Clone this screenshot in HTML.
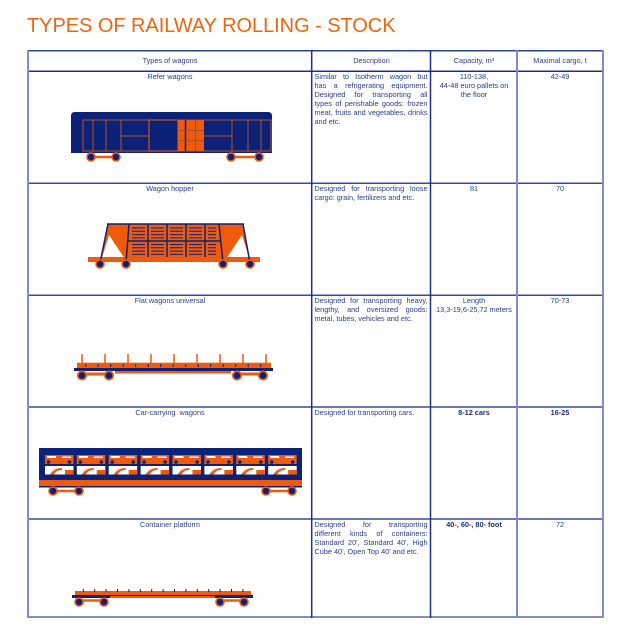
<!DOCTYPE html>
<html>
<head>
<meta charset="utf-8">
<style>
  html,body{margin:0;padding:0;background:#fff;}
  body{width:636px;height:637px;position:relative;overflow:hidden;font-family:"Liberation Sans",sans-serif;}
  svg{position:absolute;left:0;top:0;}
  .t{position:absolute;font-size:7.3px;line-height:8.9px;color:#2c3b8e;}
  .c{text-align:center;}
  .d{position:absolute;left:314.5px;width:113px;font-size:7.3px;line-height:8.9px;color:#2c3b8e;}
  .j{text-align:justify;text-align-last:justify;}
  .b{font-weight:bold;color:#1e2c7a;}
  .title{position:absolute;left:27px;top:13px;font-size:20px;line-height:26px;color:#f0640f;white-space:nowrap;letter-spacing:-0.05px;}
</style>
</head>
<body>
<svg width="636" height="637" viewBox="0 0 636 637" xmlns="http://www.w3.org/2000/svg">
  <defs>
    <g id="win">
      <rect x="0" y="455" width="28.5" height="9" fill="#f05a0c"/>
      <rect x="2" y="456" width="9" height="2" fill="#fff"/>
      <rect x="17" y="456.5" width="9" height="1.5" fill="#fff"/>
      <circle cx="3.5" cy="462" r="1.8" fill="#0b2278"/>
      <circle cx="24.5" cy="462" r="1.8" fill="#0b2278"/>
      <rect x="0" y="466" width="28.5" height="8.5" fill="#fff"/>
      <path d="M5,474.5 Q9,468 17,468 L17,470 Q11,470 9,474.5 Z" fill="#f05a0c"/>
      <rect x="20" y="470" width="8.5" height="4.5" fill="#f05a0c"/>
    </g>
  </defs>

  <!-- table lines -->
  <g fill="none">
    <line x1="27" y1="50.7" x2="604" y2="50.7" stroke="#2a3f95" stroke-width="1.5"/>
    <line x1="27" y1="71.3" x2="604" y2="71.3" stroke="#1f2f86" stroke-width="1.5"/>
    <line x1="27" y1="183.3" x2="604" y2="183.3" stroke="#3a4b9c" stroke-width="1.5"/>
    <line x1="27" y1="295.3" x2="604" y2="295.3" stroke="#3a4b9c" stroke-width="1.5"/>
    <line x1="27" y1="407" x2="604" y2="407" stroke="#3a4b9c" stroke-width="1.5"/>
    <line x1="27" y1="519" x2="604" y2="519" stroke="#3a4b9c" stroke-width="1.5"/>
    <line x1="27" y1="617" x2="604" y2="617" stroke="#7f8fc6" stroke-width="2"/>
    <line x1="28" y1="50" x2="28" y2="618" stroke="#7f8fc6" stroke-width="2"/>
    <line x1="311.7" y1="50" x2="311.7" y2="618" stroke="#1f2f86" stroke-width="1.5"/>
    <line x1="430.5" y1="50" x2="430.5" y2="618" stroke="#1f2f86" stroke-width="1.5"/>
    <line x1="517" y1="50" x2="517" y2="618" stroke="#7f8fc6" stroke-width="2"/>
    <line x1="603" y1="50" x2="603" y2="618" stroke="#7f8fc6" stroke-width="2"/>
  </g>

  <!-- Refer wagon -->
  <g>
    <path d="M71,153 V116 Q71,112 75,112 H268 Q272,112 272,116 V153 Z" fill="#0b2278"/>
    <g stroke="#b4532a" stroke-width="1" fill="none">
      <rect x="83" y="120" width="188" height="31"/>
      <path d="M93,120V151M106,120V151M121,120V151M232,120V151M248,120V151M261,120V151M121,136H149M204,136H232"/>
    </g>
    <rect x="149" y="120" width="29" height="31" fill="none" stroke="#f05a0c" stroke-width="1"/>
    <rect x="178" y="120" width="26" height="31" fill="#f05a0c"/>
    <path d="M185.5,120V151" stroke="#0b2278" stroke-width="1.5"/>
    <path d="M195.5,120V151M178,130.5H204M178,140.8H204" stroke="#a0502a" stroke-width="1"/>
    <path d="M91,157H116M231,157H259" stroke="#f05a0c" stroke-width="2.5"/>
    <g fill="#0b2278" stroke="#f05a0c" stroke-width="1.6">
      <circle cx="91" cy="157" r="4"/><circle cx="116" cy="157" r="4"/>
      <circle cx="231" cy="157" r="4"/><circle cx="259" cy="157" r="4"/>
    </g>
  </g>

  <!-- Hopper -->
  <g>
    <polygon points="108,224 243,224 249,257 101,257" fill="#f05a0c"/>
    <polygon points="102,257.5 109,235 124,257.5" fill="#fff"/>
    <polygon points="249,257.5 242,235 227,257.5" fill="#fff"/>
    <rect x="88" y="257" width="172" height="5" fill="#f05a0c"/>
    <g stroke="#0b2278" stroke-width="1.5" fill="none">
      <path d="M107,224H244"/>
      <path d="M108,224L100,263M129,224L126,263M219,224L223,263M243,224L250,263"/>
      <path d="M148,224V257M167,224V257M186,224V257M205,224V257M128,241H220"/>
    </g>
    <g stroke="#0b2278" stroke-width="1" fill="none">
      <path d="M132,228H145M151,228H164M170,228H183M189,228H202M208,228H216
               M132,231.3H145M151,231.3H164M170,231.3H183M189,231.3H202M208,231.3H216
               M132,234.6H145M151,234.6H164M170,234.6H183M189,234.6H202M208,234.6H216
               M132,237.9H145M151,237.9H164M170,237.9H183M189,237.9H202M208,237.9H216
               M132,244.5H145M151,244.5H164M170,244.5H183M189,244.5H202M208,244.5H216
               M132,247.8H145M151,247.8H164M170,247.8H183M189,247.8H202M208,247.8H216
               M132,251.1H145M151,251.1H164M170,251.1H183M189,251.1H202M208,251.1H216
               M132,254.4H145M151,254.4H164M170,254.4H183M189,254.4H202M208,254.4H216"/>
    </g>
    <g fill="#0b2278" stroke="#f05a0c" stroke-width="1.6">
      <circle cx="100" cy="264" r="4"/><circle cx="126" cy="264" r="4"/>
      <circle cx="223" cy="264" r="4"/><circle cx="250" cy="264" r="4"/>
    </g>
  </g>

  <!-- Flat wagon -->
  <g>
    <path d="M82,354V363M105,354V363M128,354V363M151,354V363M174,354V363M197,354V363M220,354V363M243,354V363M266,354V363" stroke="#f05a0c" stroke-width="1.5"/>
    <rect x="77" y="362.7" width="194" height="5.5" fill="#f05a0c"/>
    <path d="M85.7,364V367M98.2,364V367M110.7,364V367M123.2,364V367M135.7,364V367M148.2,364V367M160.7,364V367M173.2,364V367M185.7,364V367M198.2,364V367M210.7,364V367M223.2,364V367M235.7,364V367M248.2,364V367M260.7,364V367" stroke="#0b2278" stroke-width="1"/>
    <rect x="74" y="368" width="199" height="3" fill="#0b2278"/>
    <rect x="115" y="371" width="116" height="2.5" fill="#f05a0c"/>
    <path d="M82,374H109M237,374H263" stroke="#f05a0c" stroke-width="3"/>
    <g fill="#0b2278" stroke="#f05a0c" stroke-width="1.7">
      <circle cx="82" cy="375.5" r="4.2"/><circle cx="109" cy="375.5" r="4.2"/>
      <circle cx="237" cy="375.5" r="4.2"/><circle cx="263" cy="375.5" r="4.2"/>
    </g>
  </g>

  <!-- Car carrier -->
  <g>
    <rect x="39" y="448" width="263" height="32" fill="#0b2278"/>
    <use href="#win" x="45"/>
    <use href="#win" x="76.8"/>
    <use href="#win" x="108.7"/>
    <use href="#win" x="140.6"/>
    <use href="#win" x="172.5"/>
    <use href="#win" x="204.4"/>
    <use href="#win" x="236.3"/>
    <use href="#win" x="268.2"/>
    <rect x="39" y="480" width="263" height="6" fill="#f05a0c"/>
    <rect x="39" y="486" width="263" height="1.5" fill="#0b2278"/>
    <path d="M53,491H79M266,491H292" stroke="#f05a0c" stroke-width="2.5"/>
    <g fill="#0b2278" stroke="#f05a0c" stroke-width="1.6">
      <circle cx="53" cy="491" r="4"/><circle cx="79" cy="491" r="4"/>
      <circle cx="266" cy="491" r="4"/><circle cx="292" cy="491" r="4"/>
    </g>
  </g>

  <!-- Container platform -->
  <g>
    <rect x="75" y="591" width="176" height="4.5" fill="#f05a0c"/>
    <path d="M83.3,589V592M94.7,589V592M106.1,589V592M117.5,589V592M128.9,589V592M140.3,589V592M151.7,589V592M163.1,589V592M174.5,589V592M185.9,589V592M197.3,589V592M208.7,589V592M220.1,589V592M231.5,589V592M242.9,589V592" stroke="#0b2278" stroke-width="1"/>
    <rect x="72" y="595" width="38" height="3" fill="#0b2278"/>
    <rect x="215" y="595" width="38" height="3" fill="#0b2278"/>
    <rect x="110" y="595" width="105" height="1" fill="#0b2278"/>
    <rect x="110" y="596" width="105" height="2" fill="#f05a0c"/>
    <path d="M79,600.5H104M220,600.5H244" stroke="#f05a0c" stroke-width="2.5"/>
    <g fill="#0b2278" stroke="#f05a0c" stroke-width="1.6">
      <circle cx="79" cy="602" r="4"/><circle cx="104" cy="602" r="4"/>
      <circle cx="220" cy="602" r="4"/><circle cx="244" cy="602" r="4"/>
    </g>
  </g>
</svg>

<div class="title">TYPES OF RAILWAY ROLLING - STOCK</div>

<!-- header -->
<div class="t c" style="left:28px;width:284px;top:56.6px;">Types of wagons</div>
<div class="t c" style="left:312px;width:119px;top:56.6px;">Description</div>
<div class="t c" style="left:431px;width:86px;top:56.6px;">Capacity, m³</div>
<div class="t c" style="left:517px;width:86px;top:56.6px;">Maximal cargo, t</div>

<!-- row 1 -->
<div class="t c" style="left:28px;width:284px;top:73px;">Refer wagons</div>
<div class="d" style="top:73px;">
  <div class="j">Similar to Isotherm wagon but</div>
  <div class="j">has a refrigerating equipment.</div>
  <div class="j">Designed for transporting all</div>
  <div class="j">types of perishable goods: frozen</div>
  <div class="j">meat, fruits and vegetables, drinks</div>
  <div>and etc.</div>
</div>
<div class="t c" style="left:431px;width:86px;top:73px;">110-138,<br>44-48 euro pallets on<br>the floor</div>
<div class="t c" style="left:517px;width:86px;top:73px;">42-49</div>

<!-- row 2 -->
<div class="t c" style="left:28px;width:284px;top:185px;">Wagon hopper</div>
<div class="d" style="top:185px;">
  <div class="j">Designed for transporting loose</div>
  <div>cargo: grain, fertilizers and etc.</div>
</div>
<div class="t c" style="left:431px;width:86px;top:185px;">81</div>
<div class="t c" style="left:517px;width:86px;top:185px;">70</div>

<!-- row 3 -->
<div class="t c" style="left:28px;width:284px;top:297px;">Flat wagons universal</div>
<div class="d" style="top:297px;">
  <div class="j">Designed for transporting heavy,</div>
  <div class="j">lengthy, and oversized goods:</div>
  <div>metal, tubes, vehicles and etc.</div>
</div>
<div class="t c" style="left:431px;width:86px;top:297px;">Length<br>13,3-19,6-25,72 meters</div>
<div class="t c" style="left:517px;width:86px;top:297px;">70-73</div>

<!-- row 4 -->
<div class="t c" style="left:28px;width:284px;top:409px;">Car-carrying&nbsp; wagons</div>
<div class="d" style="top:409px;">
  <div>Designed for transporting cars.</div>
</div>
<div class="t c b" style="left:431px;width:86px;top:409px;">8-12 cars</div>
<div class="t c b" style="left:517px;width:86px;top:409px;">16-25</div>

<!-- row 5 -->
<div class="t c" style="left:28px;width:284px;top:521px;">Container platform</div>
<div class="d" style="top:521px;">
  <div class="j">Designed for transporting</div>
  <div class="j">different kinds of containers:</div>
  <div class="j">Standard 20', Standard 40', High</div>
  <div>Cube 40', Open Top 40' and etc.</div>
</div>
<div class="t c b" style="left:431px;width:86px;top:521px;">40-, 60-, 80- foot</div>
<div class="t c" style="left:517px;width:86px;top:521px;">72</div>

</body>
</html>
